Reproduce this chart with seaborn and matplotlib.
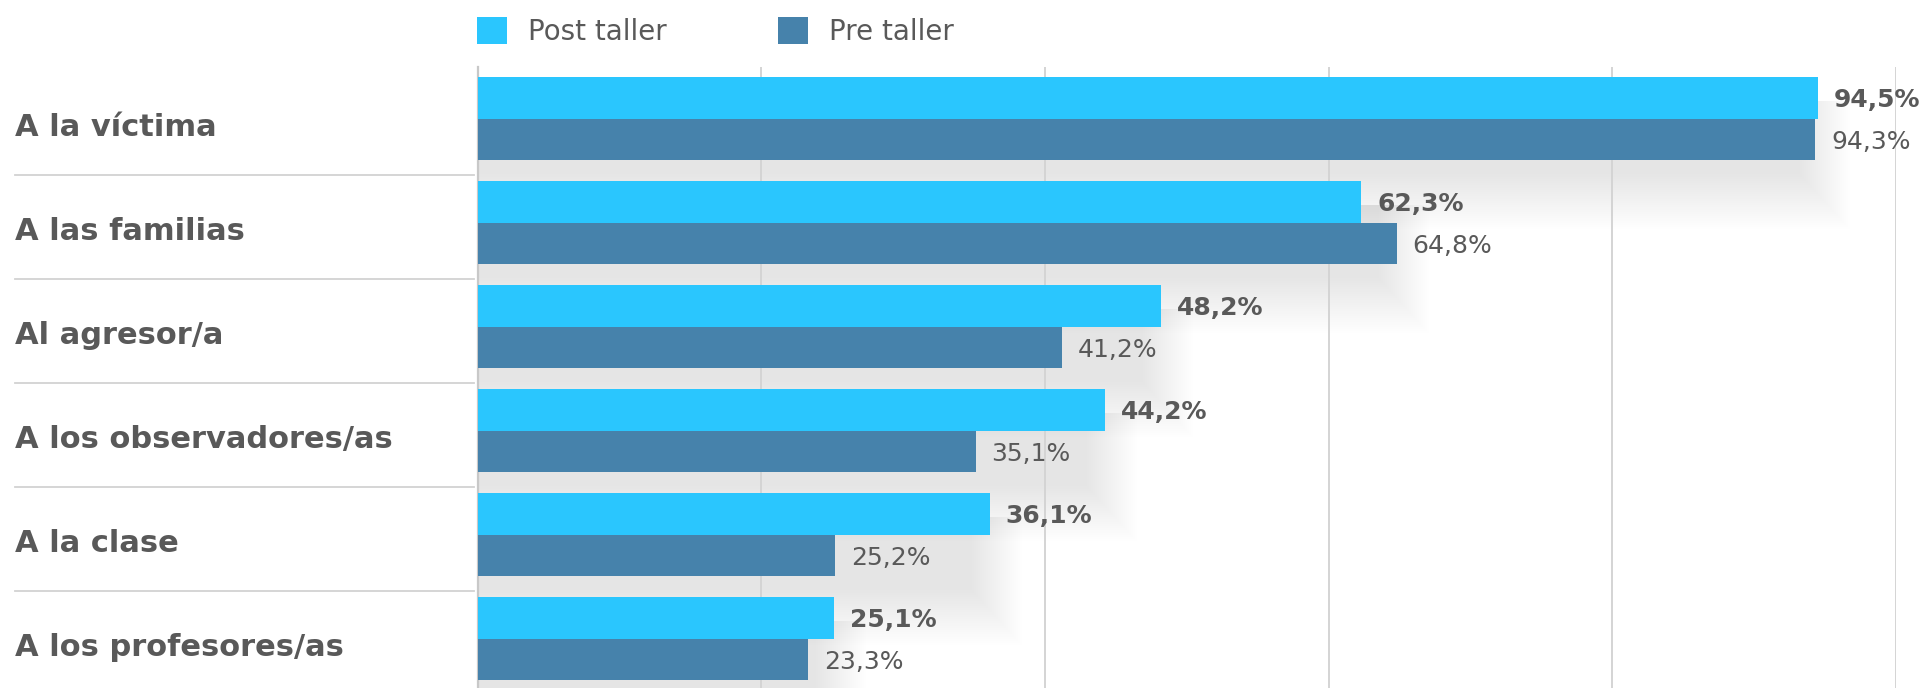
import matplotlib
matplotlib.use("Agg")
import matplotlib.pyplot as plt
import matplotlib.transforms as mtransforms
from matplotlib.patches import Patch
from matplotlib.lines import Line2D
import numpy as np
import pandas as pd
import seaborn as sns

# ---------------- data ----------------
categorias = ["A la víctima", "A las familias", "Al agresor/a",
              "A los observadores/as", "A la clase", "A los profesores/as"]
series = ["Post taller", "Pre taller"]
post_taller = [94.5, 62.3, 48.2, 44.2, 36.1, 25.1]
pre_taller = [94.3, 64.8, 41.2, 35.1, 25.2, 23.3]

colores = ["#2AC6FE", "#4682AB"]
texto = "#595959"

plt.rcParams["font.family"] = ["DejaVu Sans"]

df = pd.DataFrame({
    "categoria": categorias * 2,
    "serie": [series[0]] * len(categorias) + [series[1]] * len(categorias),
    "valor": post_taller + pre_taller,
})

W, H = 1921, 688
fig = plt.figure(figsize=(W / 100, H / 100), dpi=100)
ax = fig.add_axes([477.7 / W, -2.7 / H, (1896 - 477.7) / W, 624 / H])

# ---------------- soft drop shadow below each pair of bars ----------------
n = len(categorias)
ypos = np.arange(n)
bar_h = 0.4
px_x = (1896 - 477.7) / 100.0   # pixels per x unit
px_y = 104.0                     # pixels per category
dy = 24 / px_y                   # shadow offset (downwards)
layers = 26
alpha = 0.00425
block_w = np.maximum(np.array(post_taller), np.array(pre_taller))
for k in range(layers):
    ev = (-10 + 2.2 * k) / px_y  # vertical spread of bottom edge
    eh = (-18 + 2.0 * k) / px_x  # horizontal spread of right edge
    top = ypos - bar_h + dy
    bot = ypos + bar_h + dy + ev
    ax.barh((top + bot) / 2, block_w + eh, height=bot - top, left=0,
            color="black", alpha=alpha, linewidth=0, zorder=0.2)

# ---------------- bars ----------------
sns.barplot(data=df, x="valor", y="categoria", hue="serie", hue_order=series,
            palette=colores, orient="h", width=0.8, saturation=1,
            linewidth=0, legend=False, ax=ax, zorder=3)

ax.set_xlim(0, 100)
ax.set_ylim(n - 0.5, -0.5)
ax.set_xlabel("")
ax.set_ylabel("")

# grid
ax.set_xticks(np.arange(0, 101, 20))
ax.set_axisbelow(True)
ax.grid(axis="x", color="#d4d4d4", linewidth=1.4)
ax.grid(axis="y", visible=False)
ax.tick_params(axis="x", length=0, labelbottom=False)

for s in ("top", "right", "bottom"):
    ax.spines[s].set_visible(False)
ax.spines["left"].set_color("#c8c8c8")
ax.spines["left"].set_linewidth(1.6)
ax.set_facecolor("none")

# category labels (left-aligned at the far left of figure)
ax.tick_params(axis="y", length=0, pad=(477.7 - 15) * 0.72)
ax.set_yticks(ypos)
ax.set_yticklabels(categorias, fontsize=22, fontweight="bold", color=texto)
shift = mtransforms.ScaledTranslation(0, -0.173, fig.dpi_scale_trans)
for lab in ax.get_yticklabels():
    lab.set_horizontalalignment("left")
    lab.set_verticalalignment("baseline")
    lab.set_transform(lab.get_transform() + shift)

# separators on the left
trans = mtransforms.blended_transform_factory(fig.transFigure, ax.transData)
for i in range(n - 1):
    fig.add_artist(Line2D([15 / W, 474 / W], [i + 0.5 + 0.04] * 2,
                          transform=trans, color="#d2d2d2", linewidth=1.3))

# value labels
def fmt(v):
    return f"{v:.1f}".replace(".", ",") + "%"

for vals, off, weight in ((post_taller, -0.2, "bold"), (pre_taller, 0.2, "normal")):
    for i, v in enumerate(vals):
        ax.annotate(fmt(v), xy=(v, i + off), xytext=(11.5, -6.5),
                    textcoords="offset points", ha="left", va="baseline",
                    fontsize=18, fontweight=weight, color=texto,
                    annotation_clip=False, zorder=5)

# legend
handles = [Patch(facecolor=c, edgecolor="none") for c in colores]
fig.legend(handles, series, loc="center left",
           bbox_to_anchor=(477 / W, 1 - 31.5 / H), frameon=False,
           ncol=2, fontsize=20, labelcolor=texto, borderpad=0,
           borderaxespad=0, handlelength=1.08, handleheight=1.1,
           handletextpad=0.75, columnspacing=4.0)

fig.savefig("out.png", dpi=100, facecolor="white")
